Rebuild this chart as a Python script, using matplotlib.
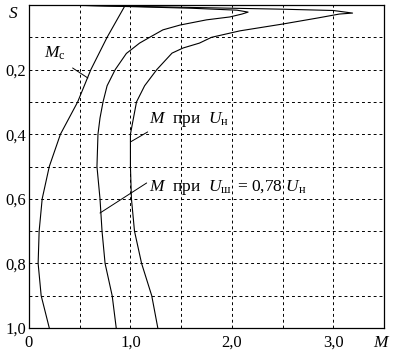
import matplotlib
matplotlib.use('Agg')
import matplotlib.pyplot as plt

plt.rcParams['font.family'] = ['Liberation Serif', 'DejaVu Serif']
plt.rcParams['mathtext.fontset'] = 'custom'
plt.rcParams['mathtext.rm'] = 'Liberation Serif'
plt.rcParams['mathtext.it'] = 'Liberation Serif:italic'

# load torque M_c(S)
s_c = [0.0, 0.1, 0.2, 0.3, 0.4, 0.5, 0.6, 0.7, 0.8, 0.9, 1.0]
m_c = [0.95, 0.77, 0.61, 0.48, 0.31, 0.20, 0.13, 0.10, 0.09, 0.12, 0.20]

# motor torque at nominal voltage
s_n = [1.0, 0.9, 0.8, 0.7, 0.6, 0.5, 0.4, 0.35, 0.3, 0.25, 0.2, 0.149, 0.133,
       0.118, 0.1, 0.08, 0.059, 0.04, 0.028, 0.025, 0.017, 0.013, 0.01, 0.007,
       0.004, 0.0]
m_n = [1.27, 1.21, 1.11, 1.04, 1.01, 1.00, 1.00, 1.03, 1.06, 1.14, 1.26, 1.41,
       1.52, 1.68, 1.80, 2.08, 2.50, 2.85, 3.06, 3.19, 3.00, 2.50, 2.00, 1.50,
       1.00, 0.33]

# motor torque at 0.78 U_n
s_r = [1.0, 0.9, 0.8, 0.7, 0.6, 0.5, 0.4, 0.35, 0.3, 0.25, 0.2, 0.15, 0.118,
       0.1, 0.077, 0.062, 0.046, 0.037, 0.028, 0.022, 0.016, 0.01, 0.005, 0.0]
m_r = [0.86, 0.82, 0.75, 0.72, 0.70, 0.67, 0.68, 0.70, 0.73, 0.77, 0.85, 0.96,
       1.09, 1.19, 1.32, 1.49, 1.75, 1.98, 2.10, 2.16, 2.05, 1.60, 1.00, 0.33]

x_major = [0, 1, 2, 3]
x_labels = ['0', '1,0', '2,0', '3,0']
x_minor = [0.5, 1.5, 2.5]
y_major = [0.2, 0.4, 0.6, 0.8, 1.0]
y_labels = ['0,2', '0,4', '0,6', '0,8', '1,0']
y_minor = [0.1, 0.3, 0.5, 0.7, 0.9]

fig = plt.figure(figsize=(3.93, 3.58), dpi=100)
ax = fig.add_axes([29/393, 30/358, 355/393, 323/358])

ax.plot(m_c, s_c, color='black', lw=0.8)
ax.plot(m_n, s_n, color='black', lw=0.8)
ax.plot(m_r, s_r, color='black', lw=0.8)

ax.set_xlim(0, 3.5)
ax.set_ylim(1.0, 0.0)
ax.set_xticks(x_major)
ax.set_xticklabels(x_labels)
ax.set_xticks(x_minor, minor=True)
ax.set_yticks(y_major)
ax.set_yticklabels(y_labels)
ax.set_yticks(y_minor, minor=True)
ax.tick_params(which='both', length=0, labelsize=12, colors='black')
ax.tick_params(axis='x', pad=5)
ax.tick_params(axis='y', pad=2)
ax.grid(which='both', color='black', lw=0.7, linestyle=(0, (3, 3)))
for sp in ax.spines.values():
    sp.set_linewidth(0.9)

fig.text(13/393, 1 - 14/358, r'$S$', fontsize=12.5, ha='center', va='center')
fig.text(382/393, 1 - 343/358, r'$M$', fontsize=12.5, ha='center', va='center')

arrow = dict(arrowstyle='-', color='black', lw=0.7, shrinkA=0, shrinkB=0)
ax.annotate('', xy=(0.58, 0.226), xytext=(0.43, 0.195), arrowprops=arrow)
ax.text(0.15, 0.15, r'$M_{\mathrm{c}}$', fontsize=12.5, ha='left', va='center')

ax.annotate('', xy=(1.0, 0.424), xytext=(1.17, 0.393), arrowprops=arrow)
ax.text(1.18, 0.355, r'$M$  при  $U_{\mathrm{н}}$', fontsize=12.5,
        ha='left', va='center')

ax.annotate('', xy=(0.70, 0.644), xytext=(1.16, 0.551), arrowprops=arrow)
ax.text(1.18, 0.565, r'$M$  при  $U_{\mathrm{ш}}\,$ = 0,78 $U_{\mathrm{н}}$',
        fontsize=12.5, ha='left', va='center')

fig.savefig('out.png', dpi=100)
